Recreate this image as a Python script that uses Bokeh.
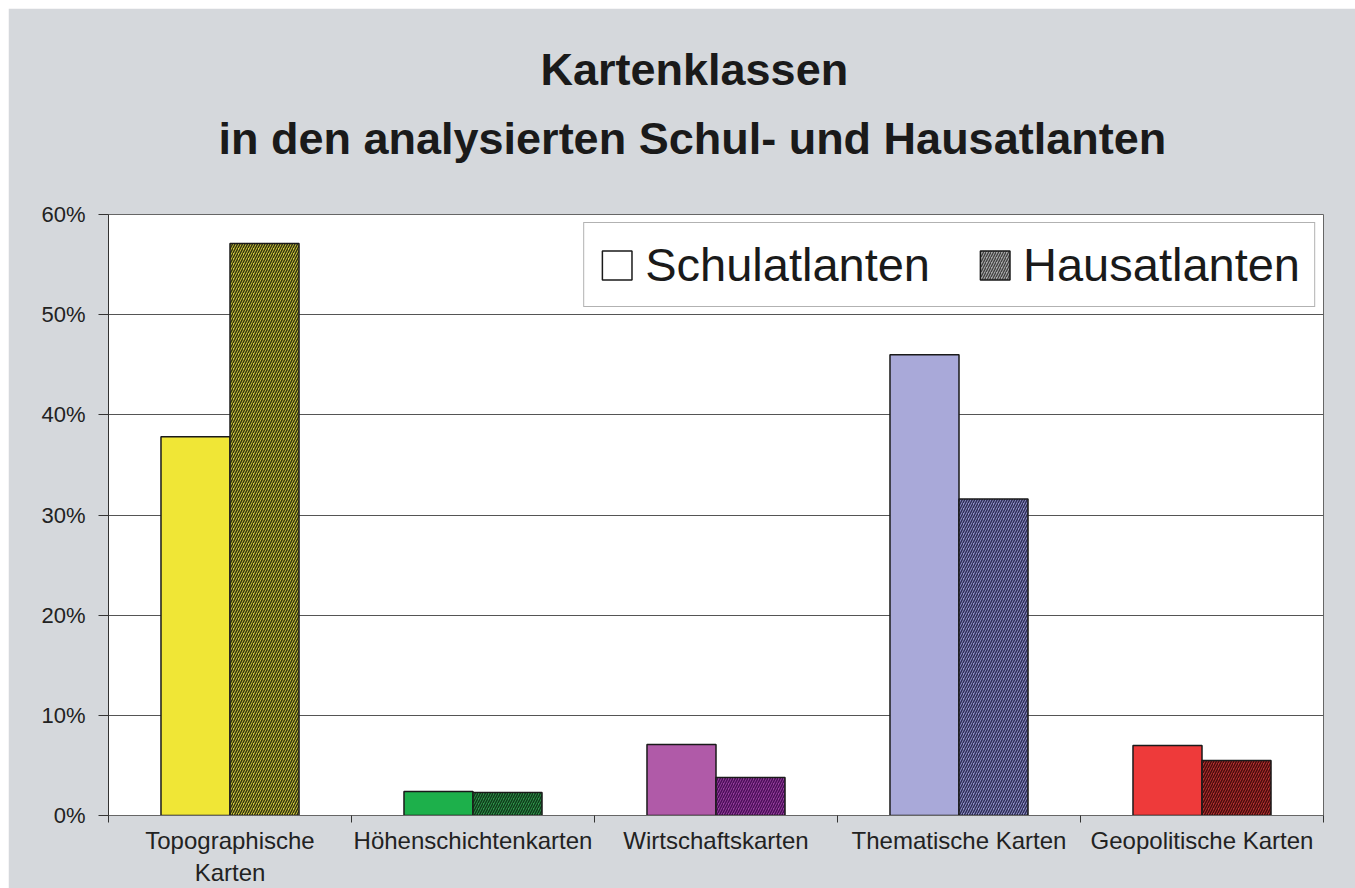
from bokeh.plotting import figure
from bokeh.models import (ColumnDataSource, Title, FixedTicker, PrintfTickFormatter,
                          Legend, LegendItem, Range1d)
from bokeh.embed import file_html
from bokeh.resources import INLINE

# ---- data ----
title_lines = ["Kartenklassen", "in den analysierten Schul- und Hausatlanten"]
categories = ["Topographische\nKarten", "Höhenschichtenkarten", "Wirtschaftskarten",
              "Thematische Karten", "Geopolitische Karten"]
schul = [37.8, 2.4, 7.1, 46.0, 7.0]
haus = [57.1, 2.3, 3.8, 31.6, 5.5]
schul_colors = ["#f0e636", "#1db04b", "#b05aa8", "#a9a9d9", "#ee3a3a"]
haus_colors = ["#d8d240", "#2f9a4a", "#9a3ea0", "#9696cc", "#b83232"]
haus_hatch = ["#34340f", "#103a1c", "#4a1058", "#2e2e58", "#4a0c0c"]
y_ticks = [0, 10, 20, 30, 40, 50, 60]

n = len(categories)
idx = list(range(n))
bw = 0.284
src_s = ColumnDataSource(dict(x=[i + 0.5 - bw / 2 for i in idx], top=schul, color=schul_colors))
src_h = ColumnDataSource(dict(x=[i + 0.5 + bw / 2 for i in idx], top=haus, color=haus_colors,
                              hatch=haus_hatch))

p = figure(width=1347, height=880, output_backend="svg", toolbar_location=None,
           x_range=Range1d(0, n), y_range=Range1d(0, 60),
           min_border_left=100, min_border_right=32, min_border_top=206, min_border_bottom=73)
p.margin = (8, 0, 0, 8)
p.title.visible = False
p.border_fill_color = "#d5d8dc"
p.background_fill_color = "white"
p.outline_line_color = "#666666"
p.outline_line_width = 1

p.vbar(x="x", top="top", width=bw, bottom=0, source=src_s, fill_color="color",
       line_color="#1a1a1a", line_width=1.5)
p.vbar(x="x", top="top", width=bw, bottom=0, source=src_h, fill_color="color",
       line_color="#1a1a1a", line_width=1.5, hatch_pattern="/", hatch_color="hatch",
       hatch_scale=5, hatch_weight=1.5)

# legend dummies
r1 = p.rect(x=[-10], y=[-10], width=1, height=1, fill_color="white", line_color="#1a1a1a", line_width=1.5)
r2 = p.rect(x=[-10], y=[-10], width=1, height=1, fill_color="#c4c4c4", line_color="#1a1a1a",
            line_width=1.5, hatch_pattern="/", hatch_color="#2a2a2a", hatch_scale=5, hatch_weight=1.3)
legend = Legend(items=[LegendItem(label="Schulatlanten", renderers=[r1]),
                       LegendItem(label="Hausatlanten", renderers=[r2])],
                orientation="horizontal", location="top_right",
                label_text_font="Liberation Sans", label_text_font_size="47px",
                label_text_color="#1a1a1a", glyph_width=37, glyph_height=36,
                label_standoff=10, spacing=46, padding=14, margin=8,
                border_line_color="#666666", border_line_width=1.5,
                background_fill_color="white", background_fill_alpha=1)
p.add_layout(legend)

# axes
p.xgrid.visible = False
p.ygrid.grid_line_color = "#555555"
p.ygrid.grid_line_width = 1.2
p.ygrid.ticker = FixedTicker(ticks=y_ticks)

xa = p.xaxis[0]
xa.ticker = FixedTicker(ticks=[i + 0.5 for i in idx], minor_ticks=list(range(n + 1)))
xa.major_label_overrides = {i + 0.5: c for i, c in enumerate(categories)}
xa.major_tick_line_color = None
xa.major_tick_out = 0
xa.minor_tick_out = 7
xa.minor_tick_in = 0
xa.minor_tick_line_color = "#333333"
xa.axis_line_color = "#666666"
xa.major_label_text_font = "Liberation Sans"
xa.major_label_text_font_size = "24px"
xa.major_label_text_color = "#222222"
xa.major_label_standoff = 4

ya = p.yaxis[0]
ya.ticker = FixedTicker(ticks=y_ticks)
ya.formatter = PrintfTickFormatter(format="%d%%")
ya.minor_tick_line_color = None
ya.major_tick_out = 10
ya.major_tick_in = 0
ya.major_tick_line_color = "#333333"
ya.axis_line_color = "#333333"
ya.major_label_text_font = "Liberation Sans"
ya.major_label_text_font_size = "22px"
ya.major_label_text_color = "#222222"
ya.major_label_standoff = 13

# titles (first added sits next to the frame, last added is outermost)
p.add_layout(Title(text=title_lines[1], align="left", offset=110,
                   text_font="Liberation Sans", text_font_style="bold", text_font_size="45px",
                   text_color="#1a1a1a", standoff=102), "above")
p.add_layout(Title(text=title_lines[0], align="left", offset=432,
                   text_font="Liberation Sans", text_font_style="bold", text_font_size="45px",
                   text_color="#1a1a1a", standoff=-70), "above")

open("out.html", "w").write(file_html(p, INLINE))
